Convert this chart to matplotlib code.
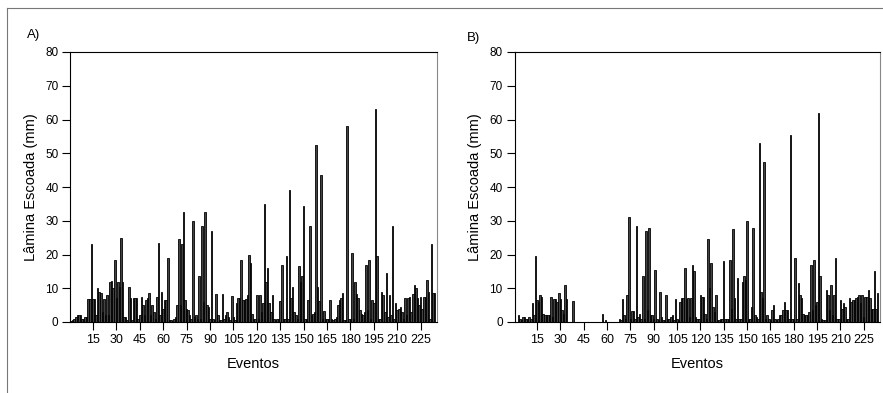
import matplotlib
matplotlib.use("Agg")
import matplotlib.pyplot as plt
from matplotlib.lines import Line2D
import numpy as np

plt.rcParams['font.family'] = ['Liberation Sans', 'DejaVu Sans']

# Lamina escoada (mm) por evento - painel A
lamina_a = [
    0.3, 0.5, 1, 1.5, 2, 2, 2, 1, 1, 1.5,
    1.5, 6.7, 6.7, 23, 6.7, 6.7, 2, 10, 9, 8.5,
    3, 6.7, 2, 8, 2, 12, 12.2, 10, 18.5, 7,
    12, 10.5, 25, 12, 1.5, 1.5, 0.5, 10.5, 7, 0.5,
    7, 7, 7, 1, 2, 7.5, 5, 2, 6.5, 7,
    8.5, 2, 5, 3, 1, 7.5, 23.5, 2, 9, 4,
    6.5, 6.5, 19, 0.7, 0.7, 0.3, 1, 1.5, 5, 24.5,
    5, 23, 32.5, 6.5, 4, 3.5, 2, 1, 30, 1.5,
    2, 1, 13.5, 1, 28.5, 6, 32.5, 5, 4.5, 1,
    27, 1, 0.5, 8.3, 2, 0.5, 0.5, 8.3, 1, 2,
    3, 1.5, 0.5, 7.8, 1.5, 0.5, 5.5, 7, 7, 18.5,
    6.5, 6.5, 6.7, 8, 20, 17.5, 2.5, 1, 1, 8,
    1, 8, 3, 5.5, 35, 12, 16, 5.5, 3, 8,
    1, 0.5, 1, 1, 6.3, 17, 1, 1, 19.5, 1,
    39, 7, 10.5, 3, 2, 1, 16.5, 12, 13.5, 34.5,
    1, 1, 6.5, 28.5, 2, 2.5, 3, 52.5, 10.5, 6.3,
    43.5, 1, 3.3, 1, 1, 1, 6.5, 1, 0.5, 1,
    1.5, 5, 6.5, 7, 8.5, 0.5, 0.5, 58, 1, 1,
    20.5, 1, 12, 8.3, 7, 3.5, 2.5, 2, 3, 17,
    3.5, 18.5, 1, 6.5, 5.5, 63, 19.5, 1, 1, 9,
    8, 3, 14.5, 1.5, 8, 2, 28.5, 1, 5.5, 3.5,
    4, 4.5, 3, 1, 7, 2, 7, 7.5, 3, 8.3,
    11, 10, 7, 5, 7.5, 4, 7.3, 7.3, 12.5, 9,
    1, 23, 8.5, 8.5, 0,
]

# Lamina escoada (mm) por evento - painel B
lamina_b = [
    0, 0, 2, 1, 0.5, 1.5, 1.5, 1, 1, 1.5,
    1, 5.5, 2, 19.5, 6.5, 6, 8, 7.5, 2.5, 2,
    2, 2, 2, 7.5, 1.5, 6.7, 6.7, 6, 8.5, 6.7,
    3.5, 2.5, 11, 6.7, 0, 0, 0, 6.3, 0, 0,
    0, 0, 0, 0, 0, 0, 0, 0, 0, 0,
    0, 0, 0, 0, 0, 0, 2.5, 0, 0.7, 0,
    0, 0, 0, 0, 0, 0, 0, 1, 0.5, 6.7,
    2, 1, 8, 31, 1, 3.3, 3.3, 1, 28.5, 1.5,
    2.5, 1, 13.5, 1, 27, 3.5, 28, 2, 2, 1,
    15.5, 1, 0.5, 9, 1.5, 0.5, 0.5, 8, 1, 1,
    1.5, 2, 0.5, 6.7, 1, 0.5, 6, 7, 7, 16,
    6.7, 7, 1.5, 7, 17, 15, 1.5, 1, 1, 8,
    7.5, 7.5, 2.5, 1, 24.5, 10, 17.5, 4.5, 3, 8,
    0.5, 0.5, 1, 1, 18, 1, 1, 1, 18.5, 4,
    27.5, 7, 1, 13, 1, 1, 12, 13.5, 12.5, 30,
    1, 1, 4.5, 28, 2, 1.5, 1, 53, 9, 7,
    47.5, 1, 2, 1, 0.5, 3.5, 5, 1, 0.5, 1,
    2, 2, 3.5, 6, 3.5, 3.7, 1, 55.5, 1, 1,
    19, 1, 11.5, 8, 7, 2.5, 2, 2, 2, 3,
    17, 3.5, 18.5, 5, 6, 62, 13.5, 1, 0.5, 0.5,
    9.5, 8, 3.5, 11, 2, 8, 19, 1, 1, 6.5,
    4, 5.5, 4.5, 1, 1, 7, 6, 6.5, 6.5, 7,
    7.5, 8, 5.5, 8, 1.5, 7.5, 7.5, 9.5, 7, 4,
    4, 15, 4, 8.5, 0,
]

x_ticks = list(range(15, 226, 15))
y_ticks = list(range(0, 81, 10))

W, H = 883, 393
fig = plt.figure(figsize=(W / 100, H / 100), dpi=100)

# outer frame (only top and left edges visible)
fig.add_artist(Line2D([7 / W, 7 / W], [0, 1 - 8 / H], color='#777777', lw=0.8))
fig.add_artist(Line2D([7 / W, 1], [1 - 8 / H, 1 - 8 / H], color='#777777', lw=0.8))

bottom = (H - 322) / H
height = (322 - 52) / H
panels = [
    (lamina_a, 'A)', 70.3, 437.0, 27, 29),
    (lamina_b, 'B)', 514.5, 880.0, 467, 32),
]

for data, tag, x0, x1, tx, ty in panels:
    ax = fig.add_axes([x0 / W, bottom, (x1 - x0) / W, height])
    ev = np.arange(1, len(data) + 1)
    ax.bar(ev, data, width=1.0, color='#444444', edgecolor='black', linewidth=0.6)
    ax.set_xlim(0.5, len(data) + 0.5)
    ax.set_ylim(0, 80)
    ax.set_xticks(x_ticks)
    ax.set_yticks(y_ticks)
    ax.tick_params(length=5.5, width=0.8, direction='out')
    ax.tick_params(axis='x', labelsize=9, pad=3)
    ax.tick_params(axis='y', labelsize=8.5, pad=3)
    for s in ax.spines.values():
        s.set_linewidth(0.8)
    ax.spines['right'].set_color('#888888')
    ax.set_xlabel('Eventos', fontsize=10.5)
    ax.xaxis.set_label_coords(0.5, -0.13)
    ax.set_ylabel('Lâmina Escoada (mm)', fontsize=10.5, labelpad=5)
    fig.text(tx / W, 1 - ty / H, tag, fontsize=9.5, ha='left', va='top')

fig.savefig('out.png', dpi=100)
